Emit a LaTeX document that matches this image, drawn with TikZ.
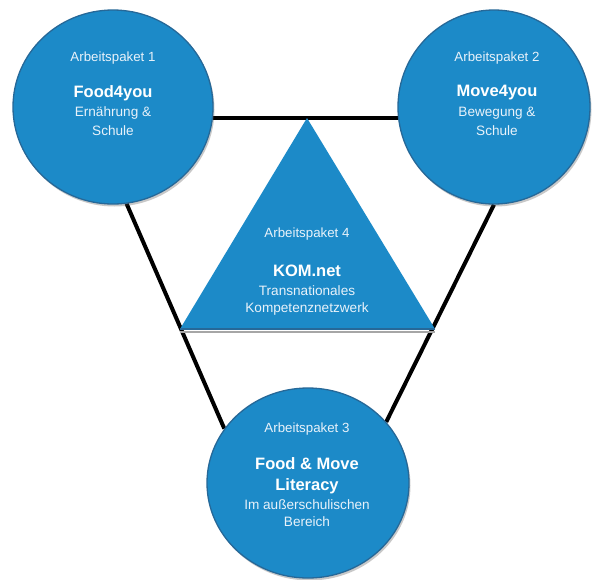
\documentclass[tikz,border=0pt]{standalone}
\usepackage{fontspec}
\setmainfont{Liberation Sans}
\usetikzlibrary{shapes.geometric,shadows,backgrounds}
\definecolor{pkfill}{RGB}{28,138,200}
\definecolor{pkedge}{RGB}{38,104,152}
\definecolor{pktext}{RGB}{232,242,250}
\tikzset{
  pkblob/.style={ellipse, fill=pkfill, draw=pkedge, line width=1.3pt, inner sep=0pt,
    drop shadow={shadow xshift=1.5pt, shadow yshift=-2.5pt, opacity=0.3, fill=black!70}},
  link/.style={line width=4pt, draw=black},
  lbl/.style={text=pktext, inner sep=0pt, font=\fontsize{13.3}{15}\selectfont},
  ttl/.style={text=white, inner sep=0pt, font=\fontsize{16.5}{18}\selectfont\bfseries},
  sub/.style={text=pktext, inner sep=0pt, font=\fontsize{13.6}{15}\selectfont},
}
\begin{document}
\begin{tikzpicture}[x=1pt,y=-1pt]
\useasboundingbox (0,0) rectangle (592,579);
% circles
\node[pkblob, minimum width=200pt, minimum height=194pt] (c1) at (113,107) {};
\node[pkblob, minimum width=192pt, minimum height=194pt] (c2) at (494,107) {};
\node[pkblob, minimum width=202pt, minimum height=190pt] (c3) at (308,483) {};
% connectors (behind circles)
\begin{pgfonlayer}{background}
\fill[white] (0,0) rectangle (592,579);
\draw[link] (c1.-6) -- (c1.-6 -| c2.center);
\draw[link] (c1.-82) -- (c3.147);
\draw[link] (c2.-90) -- (c3.38);
\end{pgfonlayer}
% triangle
\coordinate (tA) at (307,118);
\coordinate (tL) at (180,329);
\coordinate (tR) at (435,329);
\fill[black!35] ([yshift=-1.5pt]tL) -- ([yshift=-1.5pt]tR) -- ([yshift=-4pt]tR) -- ([yshift=-4pt]tL) -- cycle;
\fill[pkfill] (tA) -- (tR) -- (tL) -- cycle;
\draw[pkedge, line width=1.2pt] (tL) -- (tR);
% texts
\node[lbl] (a1) at (113,58) {Arbeitspaket 1};
\node[ttl] (b1) at (113,93) {Food4you};
\node[sub] (s1a) at (113,113) {Ernährung \&};
\node[sub] (s1b) at (113,131) {Schule};
\node[lbl] (a2) at (497,58) {Arbeitspaket 2};
\node[ttl] (b2) at (497,93) {Move4you};
\node[sub] (s2a) at (497,113) {Bewegung \&};
\node[sub] (s2b) at (497,131) {Schule};
\node[lbl] (a4) at (307,234) {Arbeitspaket 4};
\node[ttl] (b4) at (307,271) {KOM.net};
\node[sub] (s4a) at (307,291) {Transnationales};
\node[sub] (s4b) at (307,309) {Kompetenznetzwerk};
\node[lbl] (a3) at (307,429) {Arbeitspaket 3};
\node[ttl] (b3a) at (307,464) {Food \& Move};
\node[ttl] (b3b) at (307,486) {Literacy};
\node[sub] (s3a) at (307,505) {Im außerschulischen};
\node[sub] (s3b) at (307,522) {Bereich};
\end{tikzpicture}
\end{document}
